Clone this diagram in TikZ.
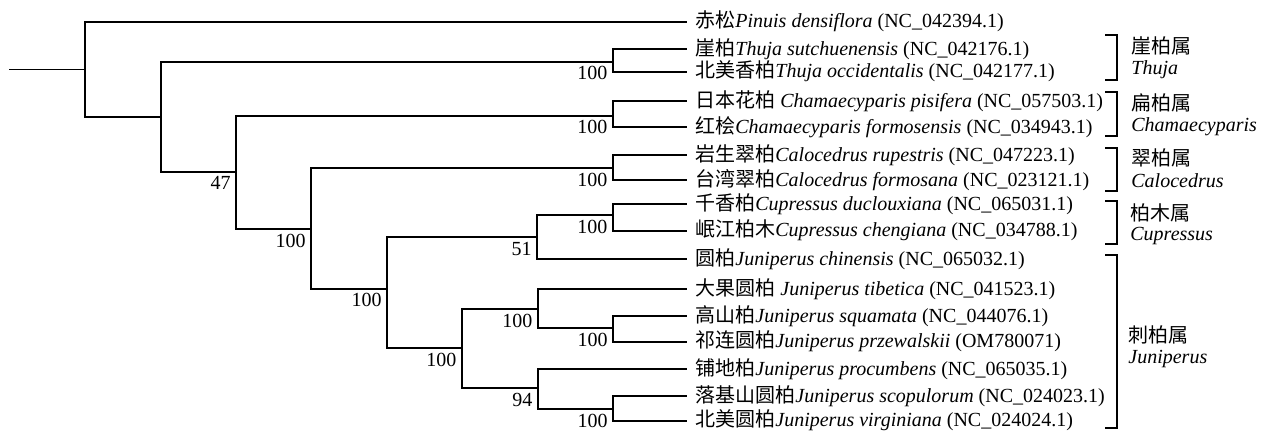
\documentclass[tikz,border=0pt]{standalone}
\usepackage{fontspec}
\setmainfont{Liberation Serif}
\newfontfamily\cjk{Noto Sans CJK SC}
\begin{document}
\begin{tikzpicture}[x=0.5pt,y=-0.5pt,
  font=\fontsize{10pt}{12pt}\selectfont,
  branch/.style={line width=1pt},
  rootline/.style={line width=0.7pt},
  bracket/.style={line width=1.1pt},
  leaf/.style={anchor=base west, inner sep=0pt, xshift=4pt, yshift=-3.1pt},
  bs/.style={anchor=north east, inner sep=0pt, xshift=-2.5pt, yshift=-2.25pt},
  grp/.style={anchor=base west, inner sep=0pt}]
\useasboundingbox (0,0) rectangle (1266,431);

% internal nodes
\coordinate (stub) at (9.3,69.3);
\coordinate (R)   at (85.3,69.3);
\coordinate (N2)  at (161,116.7);
\coordinate (T)   at (612.7,61.7);
\coordinate (N3)  at (236,171.7);
\coordinate (C)   at (612.7,115.7);
\coordinate (N4)  at (311,229);
\coordinate (Ca)  at (612.7,168.5);
\coordinate (N5)  at (387,288.7);
\coordinate (N6)  at (537,237);
\coordinate (Cu)  at (612.7,215);
\coordinate (N7)  at (461.7,348.3);
\coordinate (N8)  at (537.7,309);
\coordinate (Jsq) at (613,328.3);
\coordinate (N9)  at (537.7,388.3);
\coordinate (Jsc) at (613,409.3);

% leaf tips
\coordinate (l1)  at (687,21.7);
\coordinate (l2)  at (687,49.3);
\coordinate (l3)  at (687,71.7);
\coordinate (l4)  at (687,101);
\coordinate (l5)  at (687,127.3);
\coordinate (l6)  at (687,155);
\coordinate (l7)  at (687,180);
\coordinate (l8)  at (687,204.5);
\coordinate (l9)  at (687,230.7);
\coordinate (l10) at (687,259.3);
\coordinate (l11) at (687,289);
\coordinate (l12) at (687,316);
\coordinate (l13) at (687,341.7);
\coordinate (l14) at (687,369);
\coordinate (l15) at (687,396);
\coordinate (l16) at (687,420.7);

% branches
\draw[rootline] (stub) -- (R);
\draw[branch] (R) |- (l1);   \draw[branch] (R) |- (N2);
\draw[branch] (N2) |- (T);   \draw[branch] (N2) |- (N3);
\draw[branch] (T) |- (l2);   \draw[branch] (T) |- (l3);
\draw[branch] (N3) |- (C);   \draw[branch] (N3) |- (N4);
\draw[branch] (C) |- (l4);   \draw[branch] (C) |- (l5);
\draw[branch] (N4) |- (Ca);  \draw[branch] (N4) |- (N5);
\draw[branch] (Ca) |- (l6);  \draw[branch] (Ca) |- (l7);
\draw[branch] (N5) |- (N6);  \draw[branch] (N5) |- (N7);
\draw[branch] (N6) |- (Cu);  \draw[branch] (N6) |- (l10);
\draw[branch] (Cu) |- (l8);  \draw[branch] (Cu) |- (l9);
\draw[branch] (N7) |- (N8);  \draw[branch] (N7) |- (N9);
\draw[branch] (N8) |- (l11); \draw[branch] (N8) |- (Jsq);
\draw[branch] (Jsq) |- (l12);\draw[branch] (Jsq) |- (l13);
\draw[branch] (N9) |- (l14); \draw[branch] (N9) |- (Jsc);
\draw[branch] (Jsc) |- (l15);\draw[branch] (Jsc) |- (l16);

% bootstrap support
\node[bs] (b3)   at (N3)  {47};
\node[bs] (b4)   at (N4)  {100};
\node[bs] (b5)   at (N5)  {100};
\node[bs] (b6)   at (N6)  {51};
\node[bs] (bT)   at (T)   {100};
\node[bs] (bC)   at (C)   {100};
\node[bs] (bCa)  at (Ca)  {100};
\node[bs] (bCu)  at (Cu)  {100};
\node[bs] (b7)   at (N7)  {100};
\node[bs] (b8)   at (N8)  {100};
\node[bs] (bJsq) at (Jsq) {100};
\node[bs] (b9)   at (N9)  {94};
\node[bs] (bJsc) at (Jsc) {100};

% taxon labels
\node[leaf] (t1)  at (l1)  {{\cjk 赤松}\textit{Pinuis densiflora} (NC\_042394.1)};
\node[leaf] (t2)  at (l2)  {{\cjk 崖柏}\textit{Thuja sutchuenensis} (NC\_042176.1)};
\node[leaf] (t3)  at (l3)  {{\cjk 北美香柏}\textit{Thuja occidentalis} (NC\_042177.1)};
\node[leaf] (t4)  at (l4)  {{\cjk 日本花柏} \textit{Chamaecyparis pisifera} (NC\_057503.1)};
\node[leaf] (t5)  at (l5)  {{\cjk 红桧}\textit{Chamaecyparis formosensis} (NC\_034943.1)};
\node[leaf] (t6)  at (l6)  {{\cjk 岩生翠柏}\textit{Calocedrus rupestris} (NC\_047223.1)};
\node[leaf] (t7)  at (l7)  {{\cjk 台湾翠柏}\textit{Calocedrus formosana} (NC\_023121.1)};
\node[leaf] (t8)  at (l8)  {{\cjk 千香柏}\textit{Cupressus duclouxiana} (NC\_065031.1)};
\node[leaf] (t9)  at (l9)  {{\cjk 岷江柏木}\textit{Cupressus chengiana} (NC\_034788.1)};
\node[leaf] (t10) at (l10) {{\cjk 圆柏}\textit{Juniperus chinensis} (NC\_065032.1)};
\node[leaf] (t11) at (l11) {{\cjk 大果圆柏} \textit{Juniperus tibetica} (NC\_041523.1)};
\node[leaf] (t12) at (l12) {{\cjk 高山柏}\textit{Juniperus squamata} (NC\_044076.1)};
\node[leaf] (t13) at (l13) {{\cjk 祁连圆柏}\textit{Juniperus przewalskii} (OM780071)};
\node[leaf] (t14) at (l14) {{\cjk 铺地柏}\textit{Juniperus procumbens} (NC\_065035.1)};
\node[leaf] (t15) at (l15) {{\cjk 落基山圆柏}\textit{Juniperus scopulorum} (NC\_024023.1)};
\node[leaf] (t16) at (l16) {{\cjk 北美圆柏}\textit{Juniperus virginiana} (NC\_024024.1)};

% genus brackets
\draw[bracket] (1105,35)    -| (1117,80)    -- (1105,80);
\draw[bracket] (1105,91.7)  -| (1117,136)   -- (1105,136);
\draw[bracket] (1105,148.3) -| (1117,191)   -- (1105,191);
\draw[bracket] (1105,201)   -| (1117,244.3) -- (1105,244.3);
\draw[bracket] (1105,255)   -| (1117,427.7) -- (1105,427.7);

% genus names
\node[grp] (g1a) at (1131,54)    {\cjk 崖柏属};
\node[grp] (g1b) at (1131,75)    {\textit{Thuja}};
\node[grp] (g2a) at (1131,111)   {\cjk 扁柏属};
\node[grp] (g2b) at (1131,131.7) {\textit{Chamaecyparis}};
\node[grp] (g3a) at (1131,166)   {\cjk 翠柏属};
\node[grp] (g3b) at (1131,187.7) {\textit{Calocedrus}};
\node[grp] (g4a) at (1130,221)   {\cjk 柏木属};
\node[grp] (g4b) at (1130,240.7) {\textit{Cupressus}};
\node[grp] (g5a) at (1128,343)   {\cjk 刺柏属};
\node[grp] (g5b) at (1128,364)   {\textit{Juniperus}};
\end{tikzpicture}
\end{document}
